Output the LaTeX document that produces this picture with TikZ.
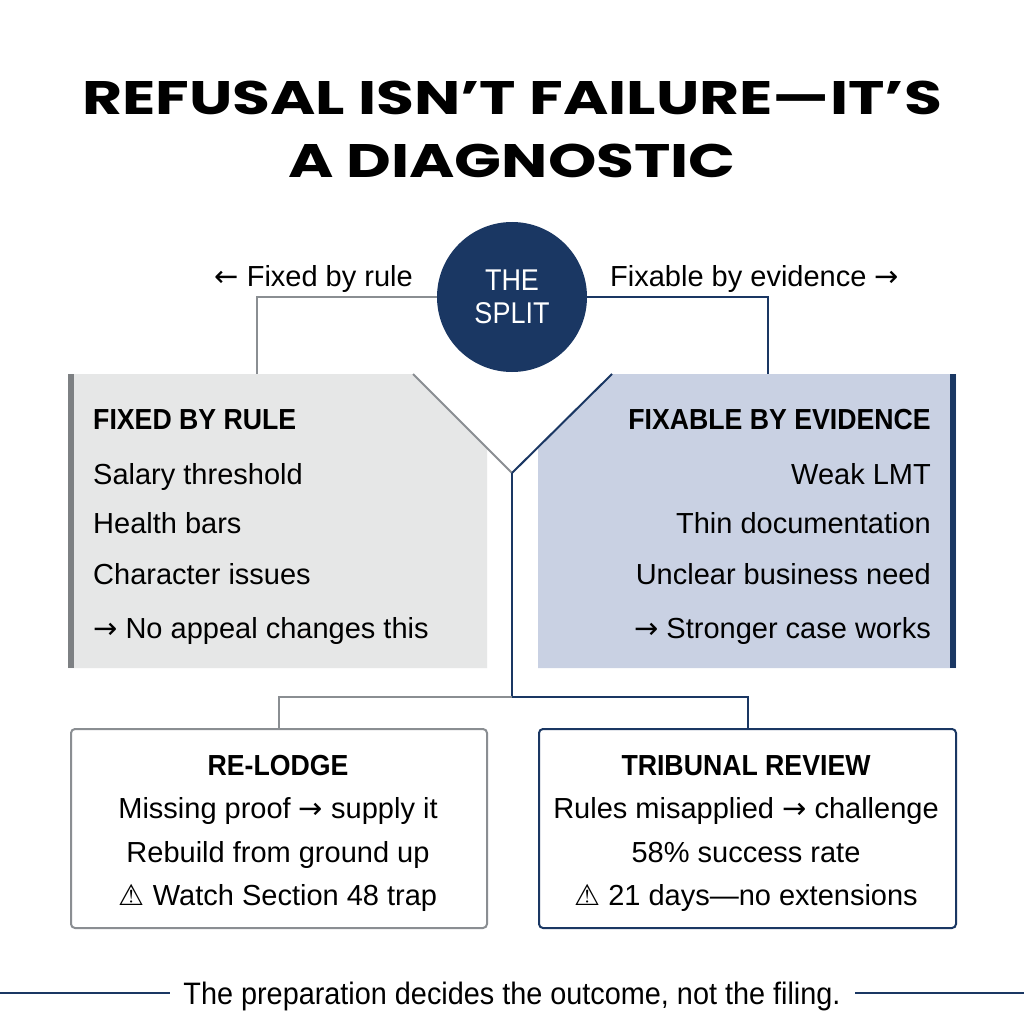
\documentclass[tikz,border=0pt]{standalone}
\usepackage{fontspec}
\setmainfont{Liberation Sans}
\newfontfamily\titlefont{Poppins}[FakeStretch=1.31]
\newfontfamily\headfont{Liberation Sans}[FakeStretch=0.92]
\newfontfamily\narrowfont{Liberation Sans}[FakeStretch=0.9]
\newfontfamily\footfont{Liberation Sans}[FakeStretch=0.93]
\newfontfamily\symfont{DejaVu Sans}
\newcommand\rarr{{\symfont →}}
\newcommand\larr{{\symfont ←}}
\newcommand\warn{{\symfont ⚠}}
\definecolor{navy}{HTML}{1A3763}
\definecolor{linegray}{HTML}{8A8E92}
\definecolor{rulefill}{HTML}{E6E7E7}
\definecolor{rulebar}{HTML}{7D8083}
\definecolor{evidfill}{HTML}{C9D1E3}
\tikzset{
  bodytext/.style={font=\fontsize{29}{34}\selectfont, inner sep=0pt},
  headtext/.style={font=\headfont\bfseries\fontsize{29}{34}\selectfont, inner sep=0pt},
  titletext/.style={font=\titlefont\bfseries\fontsize{47}{56}\selectfont, anchor=base},
  rulelink/.style={draw=linegray, line width=2pt},
  evidlink/.style={draw=navy, line width=2pt},
  outbox/.style={line width=2pt, rounded corners=4pt, fill=white, inner sep=0pt,
    anchor=north west},
}
\begin{document}
\begin{tikzpicture}[x=1pt, y=-1pt]
  \useasboundingbox[fill=white] (0,0) rectangle (1024,1024);
  % title
  \node[titletext] (title1) at (512,115) {REFUSAL ISN’T FAILURE—IT’S};
  \node[titletext] (title2) at (512,178) {A DIAGNOSTIC};
  % panels
  \fill[rulefill] (68,374) -- (413,374) -- (487,448) -- (487,668) -- (68,668) -- cycle;
  \fill[rulebar] (68,374) rectangle (74,668);
  \fill[evidfill] (538,448) -- (612,374) -- (956,374) -- (956,668) -- (538,668) -- cycle;
  \fill[navy] (950,374) rectangle (956,668);
  % the split
  \node[circle, fill=navy, minimum size=150pt, inner sep=0pt, text=white, align=center,
    font=\narrowfont\fontsize{30}{33}\selectfont] (split) at (512,297) {THE\\SPLIT};
  \node[bodytext, anchor=base east] (rulelabel) at (413,286) {\larr\ Fixed by rule};
  \node[bodytext, anchor=base west] (evidlabel) at (610,286) {Fixable by evidence \rarr};
  \coordinate (ruletop) at (257,374);
  \coordinate (evidtop) at (768,374);
  \coordinate (ruleedge) at (413,374);
  \coordinate (evidedge) at (612,374);
  \coordinate (fork) at (512,473);
  \coordinate (hub) at (512,697);
  \draw[rulelink] (split.west) -| (ruletop);
  \draw[evidlink] (split.east) -| (evidtop);
  \draw[rulelink] (ruleedge) -- (fork);
  \draw[evidlink] (evidedge) -- (fork);
  % left panel text
  \node[headtext, anchor=base west] (rulehead) at (93,429) {FIXED BY RULE};
  \node[bodytext, anchor=base west] (rule1) at (93,484) {Salary threshold};
  \node[bodytext, anchor=base west] (rule2) at (93,533) {Health bars};
  \node[bodytext, anchor=base west] (rule3) at (93,584) {Character issues};
  \node[bodytext, anchor=base west] (rule4) at (93,638) {\rarr\ No appeal changes this};
  % right panel text
  \node[headtext, anchor=base east] (evidhead) at (931,429) {FIXABLE BY EVIDENCE};
  \node[bodytext, anchor=base east] (evid1) at (931,484) {Weak LMT};
  \node[bodytext, anchor=base east] (evid2) at (931,533) {Thin documentation};
  \node[bodytext, anchor=base east] (evid3) at (931,584) {Unclear business need};
  \node[bodytext, anchor=base east] (evid4) at (931,638) {\rarr\ Stronger case works};
  % outcome boxes
  \node[outbox, draw=linegray, minimum width=416pt, minimum height=199pt] (relodge) at (70,728) {};
  \node[outbox, draw=navy, minimum width=417pt, minimum height=199pt] (tribunal) at (538,728) {};
  \draw[evidlink] (fork) -- (hub);
  \draw[rulelink] (hub) -| (relodge.north);
  \draw[evidlink] (hub) -| (tribunal.north);
  \node[headtext, anchor=base] (relodgehead) at (278,775) {RE-LODGE};
  \node[bodytext, anchor=base] (relodge1) at (278,818) {Missing proof \rarr\ supply it};
  \node[bodytext, anchor=base] (relodge2) at (278,862) {Rebuild from ground up};
  \node[bodytext, anchor=base] (relodge3) at (278,905) {\warn\ Watch Section 48 trap};
  \node[headtext, anchor=base] (tribunalhead) at (746,775) {TRIBUNAL REVIEW};
  \node[bodytext, anchor=base] (tribunal1) at (746,818) {Rules misapplied \rarr\ challenge};
  \node[bodytext, anchor=base] (tribunal2) at (746,862) {58\% success rate};
  \node[bodytext, anchor=base] (tribunal3) at (746,905) {\warn\ 21 days—no extensions};
  % footer
  \node[font=\footfont\fontsize{31}{36}\selectfont, inner sep=0pt, anchor=base] (motto) at (512,1004) {The preparation decides the outcome, not the filing.};
  \coordinate (footL) at (0,993);
  \coordinate (footR) at (1024,993);
  \draw[evidlink] (footL) -- (170,993);
  \draw[evidlink] (855,993) -- (footR);
\end{tikzpicture}
\end{document}
